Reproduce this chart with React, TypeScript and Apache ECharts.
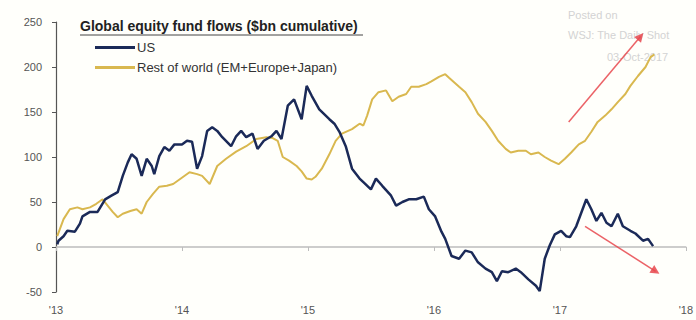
import React, { useEffect, useRef } from "react";
import * as echarts from "echarts";

// Decimal years and cumulative flows ($bn)
const usYears = [
  2013.01, 2013.02, 2013.06, 2013.09, 2013.15, 2013.19, 2013.21, 2013.27, 2013.33, 2013.39,
  2013.44, 2013.49, 2013.53, 2013.57, 2013.6, 2013.64, 2013.68, 2013.72, 2013.76, 2013.78,
  2013.82, 2013.86, 2013.9, 2013.94, 2014.0, 2014.04, 2014.08, 2014.12, 2014.16, 2014.2,
  2014.24, 2014.28, 2014.32, 2014.39, 2014.43, 2014.47, 2014.51, 2014.56, 2014.6, 2014.65,
  2014.71, 2014.75, 2014.79, 2014.84, 2014.89, 2014.95, 2014.99, 2015.03, 2015.09, 2015.17,
  2015.21, 2015.25, 2015.3, 2015.35, 2015.41, 2015.44, 2015.5, 2015.54, 2015.59, 2015.66,
  2015.7, 2015.75, 2015.8, 2015.86, 2015.92, 2015.96, 2016.01, 2016.06, 2016.09, 2016.14,
  2016.2, 2016.25, 2016.3, 2016.35, 2016.41, 2016.46, 2016.5, 2016.54, 2016.59, 2016.65,
  2016.69, 2016.75, 2016.81, 2016.84, 2016.88, 2016.92, 2016.96, 2017.01, 2017.05, 2017.08,
  2017.13, 2017.17, 2017.21, 2017.25, 2017.29, 2017.33, 2017.37, 2017.41, 2017.46, 2017.5,
  2017.56, 2017.6, 2017.66, 2017.7, 2017.74,
];
const usValues = [
  3, 7, 12, 18, 17, 26, 34, 39, 39, 53,
  57, 61, 79, 94, 103, 98, 79, 98, 90, 81,
  101, 111, 107, 114, 114, 118, 117, 87, 101, 129,
  133, 129, 122, 112, 123, 129, 122, 126, 109, 118,
  123, 129, 120, 157, 164, 142, 179, 168, 153, 142,
  137, 128, 112, 87, 76, 72, 64, 76, 68, 57,
  46, 50, 53, 53, 56, 42, 34, 17, 9, -10,
  -13, -4, -6, -17, -24, -28, -38, -27, -28, -24,
  -28, -36, -43, -49, -13, 2, 14, 18, 12, 11,
  23, 38, 53, 42, 29, 38, 27, 23, 37, 23,
  18, 15, 7, 9, 1,
];

const rowYears = [
  2013.01, 2013.06, 2013.11, 2013.17, 2013.21, 2013.27, 2013.32, 2013.37, 2013.41, 2013.45,
  2013.49, 2013.53, 2013.59, 2013.64, 2013.68, 2013.72, 2013.77, 2013.82, 2013.88, 2013.93,
  2013.98, 2014.06, 2014.12, 2014.16, 2014.22, 2014.28, 2014.35, 2014.43, 2014.51, 2014.59,
  2014.67, 2014.72, 2014.76, 2014.8, 2014.85, 2014.91, 2014.95, 2014.99, 2015.03, 2015.06,
  2015.11, 2015.17, 2015.22, 2015.27, 2015.35, 2015.41, 2015.44, 2015.47, 2015.51, 2015.56,
  2015.62, 2015.67, 2015.72, 2015.78, 2015.82, 2015.88, 2015.94, 2015.98, 2016.04, 2016.09,
  2016.12, 2016.2, 2016.25, 2016.3, 2016.35, 2016.41, 2016.46, 2016.51, 2016.57, 2016.61,
  2016.67, 2016.73, 2016.77, 2016.83, 2016.88, 2016.93, 2016.99, 2017.04, 2017.09, 2017.15,
  2017.2, 2017.25, 2017.3, 2017.36, 2017.41, 2017.46, 2017.52, 2017.56, 2017.62, 2017.68,
  2017.72, 2017.75,
];
const rowValues = [
  12, 31, 42, 44, 42, 44, 48, 53, 46, 39,
  33, 37, 40, 42, 37, 50, 59, 67, 68, 70,
  75, 83, 81, 79, 70, 90, 98, 106, 112, 120,
  122, 121, 118, 100, 96, 90, 84, 76, 75, 78,
  87, 103, 118, 126, 131, 137, 135, 146, 164, 172,
  174, 162, 167, 170, 178, 178, 181, 184, 189, 192,
  188, 178, 172, 161, 148, 139, 129, 118, 109, 105,
  107, 107, 103, 105, 100, 96, 92, 98, 105, 114,
  118, 128, 139, 146, 153, 161, 170, 179, 190, 200,
  211, 214,
];

const seriesNames = ["US", "Rest of world (EM+Europe+Japan)"];
const titleText = "Global equity fund flows ($bn cumulative)";
const watermark = ["Posted on", "WSJ: The Daily Shot", "03-Oct-2017"];

// Annotation arrows in data units [year, value]
const upArrow = [[2017.07, 139], [2017.64, 234]];
const downArrow = [[2017.2, 23], [2017.76, -27]];

const FONT = "'Liberation Sans', Arial, sans-serif";

export default function App() {
  const ref = useRef<HTMLDivElement>(null);

  useEffect(() => {
    document.body.style.margin = "0";
    const chart = echarts.init(ref.current!, null, { renderer: "svg" });
    const us = usYears.map((y, i) => [y, usValues[i]]);
    const row = rowYears.map((y, i) => [y, rowValues[i]]);

    chart.setOption({
      animation: false,
      backgroundColor: "#fffffb",
      textStyle: { fontFamily: FONT },
      grid: { left: 56, right: 8, top: 22, bottom: 28 },
      legend: {
        data: seriesNames,
        orient: "vertical",
        left: 95,
        top: 41,
        itemWidth: 40,
        itemHeight: 3,
        itemGap: 7,
        padding: 0,
        icon: "rect",
        textStyle: { fontSize: 13, color: "#333", fontFamily: FONT, padding: [0, 0, 0, -3] },
        selectedMode: false,
      },
      xAxis: [
        {
          type: "value",
          min: 2013,
          max: 2018,
          interval: 1,
          axisLine: { onZero: true, lineStyle: { color: "#bdbdbd", width: 1.5 } },
          axisTick: { show: true, length: 4, lineStyle: { color: "#bdbdbd" } },
          axisLabel: { show: false },
          splitLine: { show: false },
        },
        {
          type: "value",
          position: "bottom",
          min: 2013,
          max: 2018,
          interval: 1,
          axisLine: { show: false, onZero: false },
          axisTick: { show: false },
          axisLabel: {
            margin: 12,
            fontSize: 11,
            color: "#555",
            fontFamily: FONT,
            formatter: (v: number) => "'" + String(Math.round(v)).slice(2),
          },
          splitLine: { show: false },
        },
      ],
      yAxis: {
        type: "value",
        min: -50,
        max: 250,
        interval: 50,
        axisLine: { show: true, onZero: false, lineStyle: { color: "#555", width: 1.2 } },
        axisTick: { show: true, length: 4, lineStyle: { color: "#555" } },
        axisLabel: { margin: 14, fontSize: 11, color: "#555", fontFamily: FONT },
        splitLine: { show: false },
      },
      series: [
        {
          name: seriesNames[1],
          type: "line",
          data: row,
          showSymbol: false,
          color: "#d9b84f",
          lineStyle: { width: 2, color: "#d9b84f" },
          markLine: {
            silent: true,
            symbol: ["none", "triangle"],
            symbolSize: 9,
            label: { show: false },
            lineStyle: { color: "#e8474c", width: 1.5, type: "solid", opacity: 0.85 },
            data: [
              [{ coord: upArrow[0] }, { coord: upArrow[1] }],
              [{ coord: downArrow[0] }, { coord: downArrow[1] }],
            ],
          },
        },
        {
          name: seriesNames[0],
          type: "line",
          data: us,
          showSymbol: false,
          color: "#1b2a58",
          lineStyle: { width: 2.5, color: "#1b2a58" },
        },
      ],
      graphic: [
        {
          type: "text",
          left: 80,
          top: 19,
          style: {
            text: titleText,
            fontSize: 14,
            fontWeight: "bold",
            fill: "#222",
            fontFamily: FONT,
          },
        },
        {
          type: "line",
          shape: { x1: 80, y1: 35, x2: 363, y2: 35 },
          style: { stroke: "#444", lineWidth: 1 },
        },
        {
          type: "text",
          left: 568,
          top: 9,
          style: { text: watermark[0], fontSize: 11, fill: "#d3d3d3", fontFamily: FONT },
        },
        {
          type: "text",
          left: 568,
          top: 29,
          style: { text: watermark[1], fontSize: 11, fill: "#d3d3d3", fontFamily: FONT },
        },
        {
          type: "text",
          left: 607,
          top: 51,
          style: { text: watermark[2], fontSize: 11, fill: "#d3d3d3", fontFamily: FONT },
        },
      ],
    });
    return () => chart.dispose();
  }, []);

  return (
    <div
      ref={ref}
      style={{ position: "absolute", left: 0, top: 0, width: 696, height: 320 }}
    />
  );
}
